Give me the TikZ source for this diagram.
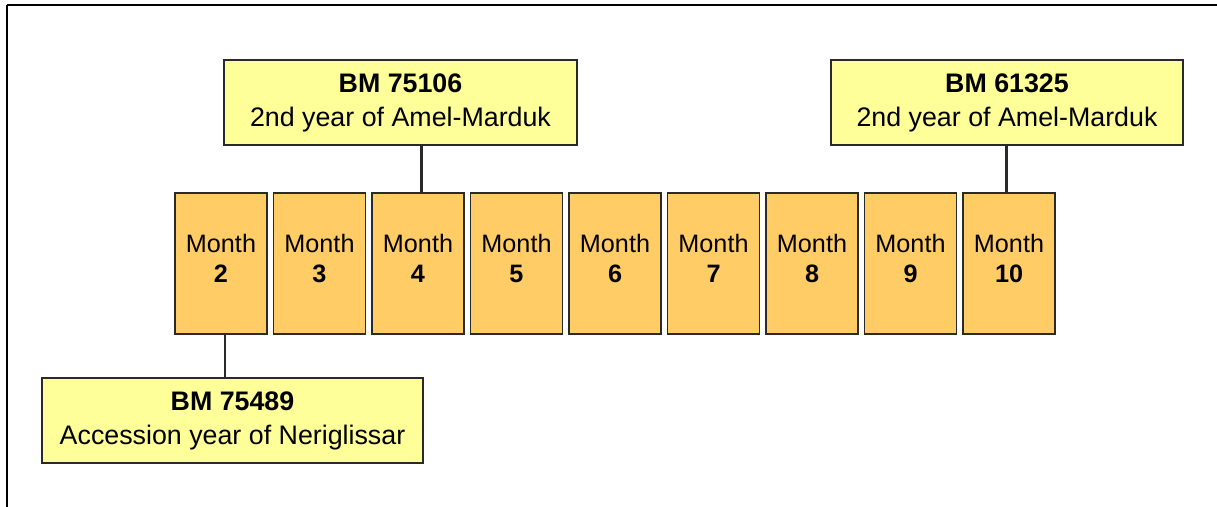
\documentclass[tikz,border=0pt]{standalone}
\usepackage{fontspec}
\setmainfont{Liberation Sans}
\definecolor{notefill}{HTML}{FFFF99}
\definecolor{monthfill}{HTML}{FFCC66}
\definecolor{edge}{HTML}{2A2A2A}
\tikzset{
  tablet/.style={draw=edge, line width=1.3pt, fill=notefill, inner sep=0pt,
    align=center, font=\fontsize{26.8}{34}\selectfont},
  monthbox/.style={draw=edge, line width=1.3pt, fill=monthfill, inner sep=0pt,
    minimum width=92pt, minimum height=141pt, align=center,
    font=\fontsize{25.2}{29.5}\selectfont},
  link/.style={draw=edge, line width=2.8pt},
  frame/.style={draw=black, line width=1.7pt}
}
\begin{document}
\begin{tikzpicture}[x=1pt,y=-1pt]
\useasboundingbox (0,0) rectangle (1217,506);
\draw[frame] (7,5) -- (1230,5);
\draw[frame] (7,5) -- (7,520);

\foreach \i in {2,...,10}
  \node[monthbox] (m\i) at ({221+98.5*(\i-2)},263.5) {Month\\\textbf{\i}\rule[-10pt]{0pt}{0pt}};

\node[tablet, minimum width=353pt, minimum height=85pt] (bma) at (400.5,102.5)
  {\textbf{BM 75106}\\2nd year of Amel-Marduk};
\node[tablet, minimum width=352pt, minimum height=85pt] (bmb) at (1007,102.5)
  {\textbf{BM 61325}\\2nd year of Amel-Marduk};
\node[tablet, minimum width=381pt, minimum height=85pt] (bmc) at (232.5,420.5)
  {\textbf{BM 75489}\\Accession year of Neriglissar};

\draw[link] ([xshift=3.5pt]m4.north) -- ([xshift=3.5pt]m4.north |- bma.south);
\draw[link] ([xshift=-2.5pt]m10.north) -- ([xshift=-2.5pt]m10.north |- bmb.south);
\draw[link] ([xshift=4pt]m2.south) -- ([xshift=4pt]m2.south |- bmc.north);
\end{tikzpicture}
\end{document}
